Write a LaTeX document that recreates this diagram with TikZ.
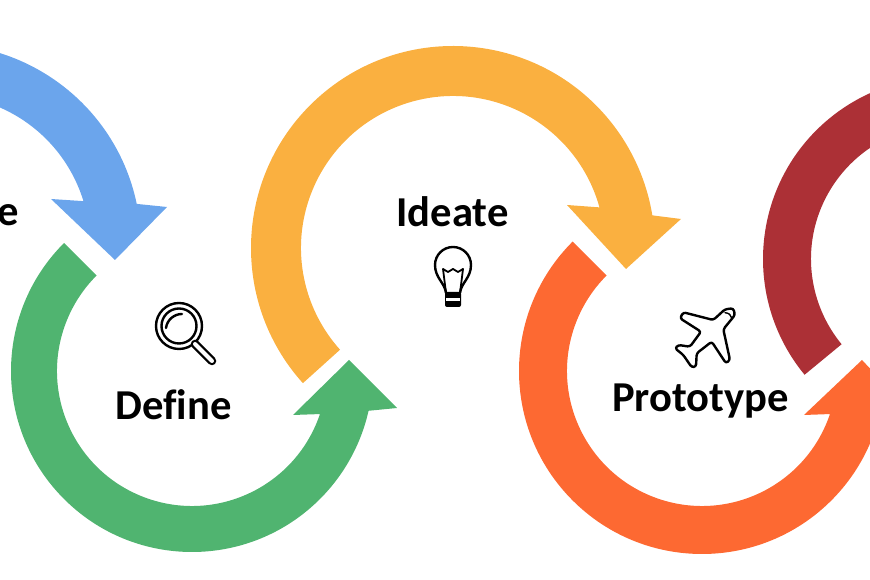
\documentclass[tikz,border=0pt]{standalone}
\usepackage{fontspec}
\setmainfont{Carlito}[Ligatures=NoCommon]
\usepackage{xcolor}
\usetikzlibrary{calc}
\definecolor{blueband}{RGB}{107,165,236}
\definecolor{greenband}{RGB}{80,180,112}
\definecolor{yellowband}{RGB}{250,176,64}
\definecolor{orangeband}{RGB}{253,105,50}
\definecolor{redband}{RGB}{172,48,54}
\tikzset{
	stagelabel/.style={inner sep=0pt,anchor=base,font=\fontsize{42.6}{43}\selectfont\bfseries},
	iconline/.style={draw=black,line width=2.4pt,line join=round,line cap=round}
}

\begin{document}
\begin{tikzpicture}[x=1pt,y=1pt]
		\useasboundingbox (0,0) rectangle (870,580);
		\clip (0,0) rectangle (870,580);
		\coordinate (Cb) at (-60,335);
		\coordinate (Cg) at (192,209);
		\coordinate (Cy) at (453,332);
		\coordinate (Co) at (702,209);
		\coordinate (Cr) at (945,321);
		%
		\fill[blueband] ($(Cb)+(100:201)$) arc[start angle=100,end angle=11.8,radius=201]
		-- (167,373) -- (115,320) -- (51,381)
		-- ($(Cb)+(17:150)$) arc[start angle=17,end angle=100,radius=150] -- cycle;
		\fill[greenband] ($(Cg)+(135:181)$) arc[start angle=135,end angle=347.3,radius=181]
		-- (397,172) -- (349,220) -- (293,165)
		-- ($(Cg)+(341.4:135)$) arc[start angle=341.4,end angle=135,radius=135] -- cycle;
		\fill[yellowband] ($(Cy)+(222:202)$) arc[start angle=222,end angle=9.3,radius=202]
		-- (681,361) -- (626,311) -- (567,375)
		-- ($(Cy)+(15.5:152)$) arc[start angle=15.5,end angle=222,radius=152] -- cycle;
		\fill[orangeband] ($(Co)+(135:183)$) arc[start angle=135,end angle=347.3,radius=183]
		-- (907,172) -- (862,220) -- (804,165)
		-- ($(Co)+(341.4:135)$) arc[start angle=341.4,end angle=135,radius=135] -- cycle;
		\fill[redband] ($(Cr)+(219.5:182)$) arc[start angle=219.5,end angle=100,radius=182]
		-- ($(Cr)+(100:134)$) arc[start angle=100,end angle=219.5,radius=134] -- cycle;
		%
		\node[stagelabel,anchor=base east] (empathize) at (19.5,354) {e};
		\node[stagelabel] (define) at (173.5,160.5) {Define};
		\node[stagelabel] (ideate) at (452.5,353) {Ideate};
		\node[stagelabel] (prototype) at (700.5,168) {Prototype};
		%
		% magnifier
		\draw[iconline] (179,254) circle (23);
		\draw[iconline] (179,254) circle (17.5);
		\draw[iconline] (166,252) .. controls (167,260) and (174,266) .. (182,266);
		\draw[line width=8.5pt,line cap=round] (195,236) -- (212,219);
		\draw[white,line width=4pt,line cap=round] (195,236) -- (212,219);
		%
		% bulb
		\draw[iconline] (446,287) .. controls (445,297) and (435,302) .. (435,315)
		arc[start angle=180,end angle=0,radius=18]
		.. controls (471,302) and (461,297) .. (460,287);
		\draw[iconline,line width=1.8pt] (446,287) -- (443,311) -- (448,308) -- (453,311) -- (458,308) -- (463,311) -- (460,287);
		\fill[black,rounded corners=2pt] (445,288) rectangle (461,273);
		\fill[white] (446,281.5) rectangle (460,279);
		%
		% plane
		\draw[iconline,rounded corners=2.5pt] (713.3,260) -- (725,270.7) -- (733.3,271.7) -- (735,265)
		-- (723.3,250.7) -- (730,220) -- (726,216.7) -- (711.7,238.3) -- (696.7,226.7)
		-- (696,213.3) -- (691.7,212.7) -- (683.3,225) -- (675,231.7) -- (678.3,235)
		-- (690,233.3) -- (701,248.3) -- (680,261.7) -- (683.3,267.7) -- cycle;
		\draw[iconline,line width=1.4pt] (725,267.3) .. controls (729,267) and (731,265) .. (731.7,262);
		\end{tikzpicture}
\end{document}
